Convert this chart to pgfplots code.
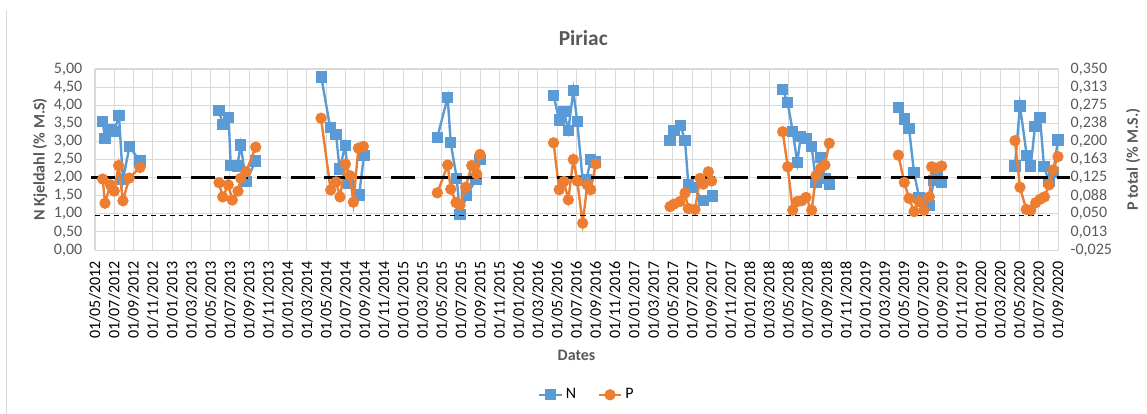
\documentclass[border=0pt]{standalone}
\usepackage{pgfplots}
\pgfplotsset{compat=1.18}
\usepackage{pgfplotstable}
\usepackage{fontspec}
\setmainfont{Carlito}
\definecolor{txt}{HTML}{595959}
\definecolor{grd}{HTML}{D9D9D9}
\definecolor{nblue}{HTML}{5B9BD5}
\definecolor{porange}{HTML}{ED7D31}

\pgfplotstableread{
m v
0.80 3.55
1.04 3.08
1.63 3.32
2.00 3.28
2.49 3.71
2.90 1.94
3.57 2.85
4.67 2.46
nan nan
12.88 3.85
13.26 3.47
13.88 3.66
14.09 2.34
14.78 2.32
15.13 2.90
15.68 1.89
16.69 2.46
nan nan
23.50 4.78
24.42 3.38
25.03 3.19
25.40 2.24
25.98 2.88
26.36 1.84
27.43 1.52
27.93 2.62
nan nan
35.55 3.11
36.62 4.22
36.94 2.96
37.56 1.98
37.90 0.99
38.60 1.50
39.56 1.96
39.98 2.49
nan nan
47.62 4.27
48.20 3.59
48.70 3.82
49.15 3.30
49.67 4.40
50.08 3.54
50.64 1.93
51.05 1.95
51.47 2.50
51.95 2.43
nan nan
59.71 3.02
60.12 3.31
60.82 3.43
61.27 3.02
61.61 1.82
62.13 1.73
63.17 1.36
64.10 1.49
nan nan
71.41 4.44
71.93 4.07
72.45 3.27
72.93 2.42
73.28 3.13
73.83 3.09
74.42 2.85
74.87 1.87
75.36 2.56
75.80 1.98
76.25 1.80
nan nan
83.42 3.94
84.04 3.62
84.53 3.36
85.05 2.14
85.57 1.46
86.64 1.24
87.12 1.93
87.45 2.05
87.92 1.87
nan nan
95.53 2.32
96.05 3.98
96.75 2.62
97.17 2.32
97.61 3.41
98.13 3.67
98.55 2.30
99.07 1.90
99.51 2.15
100.00 3.04
}\Ndata

\pgfplotstableread{
m v
0.80 0.122
1.04 0.072
1.60 0.110
1.80 0.103
2.00 0.097
2.45 0.150
2.90 0.077
3.55 0.124
4.67 0.146
nan nan
12.88 0.1145
13.26 0.085
13.84 0.110
14.26 0.0785
14.85 0.097
15.13 0.1235
15.68 0.137
16.69 0.188
nan nan
23.47 0.248
24.47 0.0995
25.03 0.116
25.44 0.085
26.00 0.153
26.48 0.129
26.83 0.074
27.35 0.186
27.87 0.1895
nan nan
35.55 0.0935
36.62 0.151
36.94 0.101
37.49 0.073
37.90 0.068
38.49 0.105
39.12 0.150
39.63 0.1325
39.98 0.173
nan nan
47.62 0.197
48.20 0.100
48.70 0.117
49.15 0.079
49.67 0.1625
50.08 0.118
50.64 0.0305
51.12 0.110
51.47 0.100
52.00 0.153
nan nan
59.71 0.065
60.12 0.070
60.75 0.0755
61.27 0.093
61.61 0.061
62.31 0.059
62.83 0.1235
63.17 0.1115
63.69 0.137
64.03 0.118
nan nan
71.41 0.220
71.93 0.1475
72.45 0.0575
72.93 0.0755
73.38 0.077
73.83 0.084
74.42 0.0575
74.87 0.129
75.36 0.1445
75.80 0.151
76.25 0.196
nan nan
83.42 0.1715
84.04 0.115
84.53 0.082
85.05 0.0545
85.57 0.0755
86.08 0.0575
86.64 0.085
86.88 0.1475
87.40 0.1445
87.92 0.149
nan nan
95.53 0.2015
96.05 0.105
96.70 0.059
97.17 0.0575
97.69 0.073
98.13 0.080
98.59 0.085
99.07 0.110
99.51 0.141
100.00 0.1685
}\Pdata

\begin{document}
\begin{tikzpicture}
\useasboundingbox (-71.25pt,-123pt) rectangle (789pt,187.5pt);
\draw[grd, line width=0.75pt] (-66pt,-123pt) -- (-66pt,180pt);
\pgfplotsset{
  every axis/.append style={
    scale only axis, width=722.25pt, height=135.75pt,
    at={(0,0)}, anchor=south west,
    xmin=0, xmax=100,
    font=\fontsize{12}{14}\selectfont\color{txt},
    major tick length=0pt,
    unbounded coords=jump,
  },
}
\begin{axis}[
  ymin=0, ymax=5,
  axis line style={grd},
  grid=major, grid style={grd, line width=0.75pt},
  xtick={0,2,...,100},
  xticklabels={01/05/2012,01/07/2012,01/09/2012,01/11/2012,
    01/01/2013,01/03/2013,01/05/2013,01/07/2013,01/09/2013,01/11/2013,
    01/01/2014,01/03/2014,01/05/2014,01/07/2014,01/09/2014,01/11/2014,
    01/01/2015,01/03/2015,01/05/2015,01/07/2015,01/09/2015,01/11/2015,
    01/01/2016,01/03/2016,01/05/2016,01/07/2016,01/09/2016,01/11/2016,
    01/01/2017,01/03/2017,01/05/2017,01/07/2017,01/09/2017,01/11/2017,
    01/01/2018,01/03/2018,01/05/2018,01/07/2018,01/09/2018,01/11/2018,
    01/01/2019,01/03/2019,01/05/2019,01/07/2019,01/09/2019,01/11/2019,
    01/01/2020,01/03/2020,01/05/2020,01/07/2020,01/09/2020},
  xticklabel style={rotate=90, anchor=east, xshift=-5pt, font=\fontsize{12}{14}\selectfont},
  ytick={0,0.5,...,5},
  yticklabels={{0,00},{0,50},{1,00},{1,50},{2,00},{2,50},{3,00},{3,50},{4,00},{4,50},{5,00}},
  yticklabel style={xshift=-6pt},
  xlabel={\bfseries Dates},
  xlabel style={at={(axis description cs:0.5,-0.58)}, anchor=center},
  ylabel={\bfseries N Kjeldahl (\% M.S)},
  ylabel style={at={(axis description cs:-0.057,0.5)}, anchor=center},
  title={\bfseries Piriac},
  title style={at={(axis description cs:0.507,1)}, anchor=center, yshift=17pt, font=\fontsize{16}{19}\selectfont\color{txt}},
  legend style={at={(axis description cs:0.511,-0.80)}, anchor=center, draw=none, fill=none,
    legend columns=2, font=\fontsize{12}{14}\selectfont,
    /tikz/every even column/.append style={column sep=14pt}},
  legend cell align=left,
]
\addplot[nblue, line width=1.8pt, mark=square*, mark size=3.3pt, mark options={solid}] table[x=m, y=v] {\Ndata};
\addlegendentry{N}
\addlegendimage{porange, line width=1.8pt, mark=*, mark size=3.3pt}
\addlegendentry{P}
\end{axis}
\begin{axis}[
  ymin=-0.025, ymax=0.35,
  axis x line=none,
  axis y line*=right,
  axis line style={draw=none},
  clip=false,
  ytick={-0.025,0.0125,0.05,0.0875,0.125,0.1625,0.2,0.2375,0.275,0.3125,0.35},
  yticklabels={{-0,025},{0,013},{0,050},{0,088},{0,125},{0,163},{0,200},{0,238},{0,275},{0,313},{0,350}},
  yticklabel style={xshift=6pt},
  ylabel={\bfseries P total (\% M.S.)},
  ylabel style={at={(axis description cs:1.078,0.5)}, anchor=center},
]
\addplot[porange, line width=1.8pt, mark=*, mark size=3.3pt] table[x=m, y=v] {\Pdata};
\addplot[black, line width=2.6pt, dash pattern=on 18pt off 7pt] coordinates {(-0.45,0.125) (101.25,0.125)};
\addplot[black, line width=1.1pt, dash pattern=on 4pt off 3pt] coordinates {(0,0.047) (99.2,0.047)};
\end{axis}
\end{tikzpicture}
\end{document}
